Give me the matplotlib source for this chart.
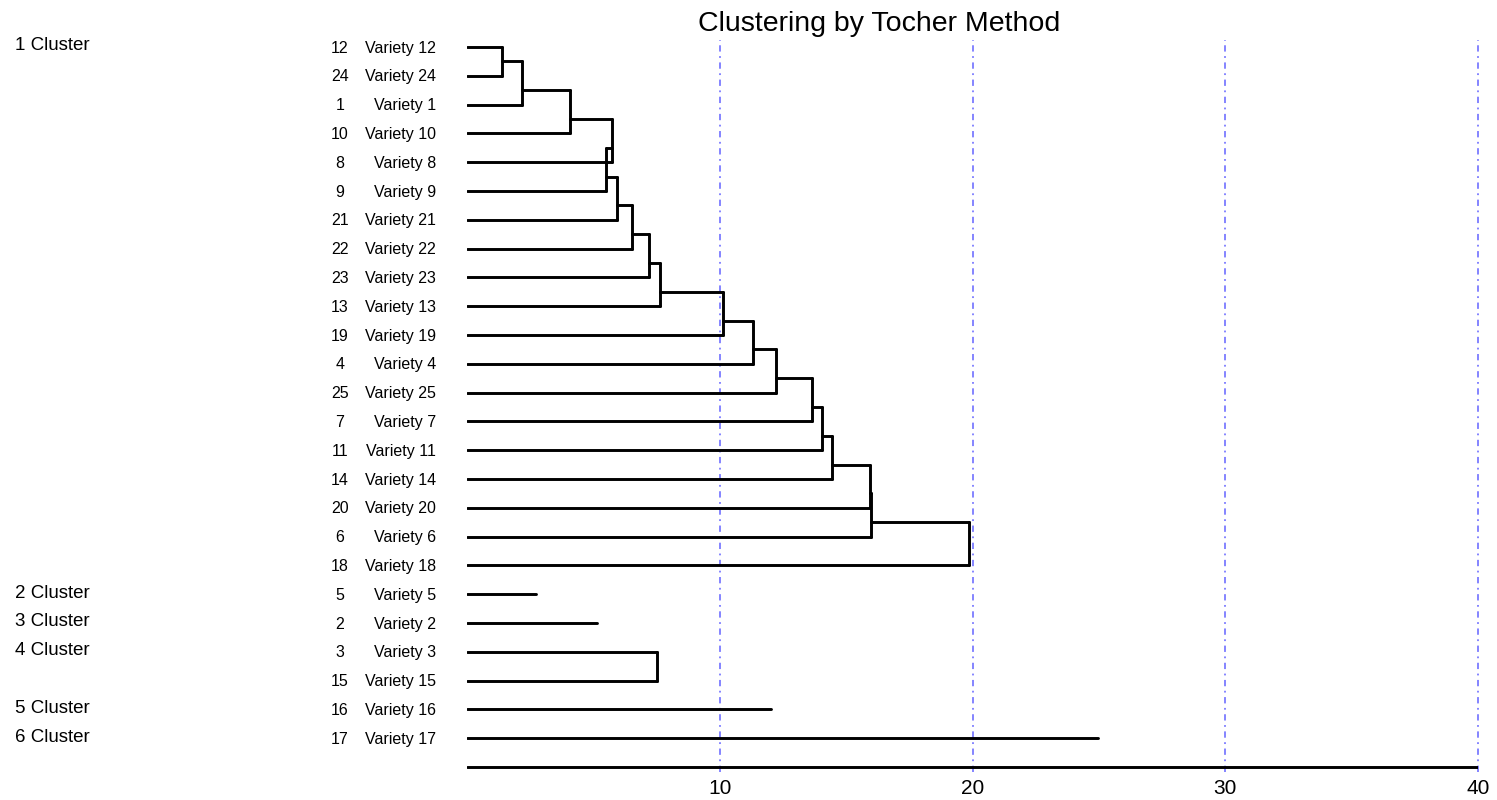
import matplotlib
matplotlib.use("Agg")
import matplotlib.pyplot as plt
from matplotlib.collections import LineCollection
from matplotlib.transforms import blended_transform_factory

plt.rcParams['font.family'] = ['Liberation Sans', 'DejaVu Sans']

# ordre des genotypes (de haut en bas) et groupes de Tocher
order = [12, 24, 1, 10, 8, 9, 21, 22, 23, 13, 19, 4, 25, 7, 11, 14, 20, 6, 18,
         5, 2, 3, 15, 16, 17]
cluster_names = ["1 Cluster", "2 Cluster", "3 Cluster", "4 Cluster", "5 Cluster", "6 Cluster"]
cluster_sizes = [19, 1, 1, 2, 1, 1]

# distances d'entree dans le groupe (a partir du 2e membre)
join_c1 = [1.37, 2.19, 4.07, 5.73, 5.48, 5.94, 6.52, 7.19, 7.63, 10.13, 11.32,
           12.24, 13.65, 14.04, 14.44, 15.93, 16.0, 19.87]
join_c4 = [7.51]
# groupes a un seul genotype : longueur du trait
single_dist = {5: 2.74, 2: 5.16, 16: 12.01, 17: 24.95}

joins = {0: join_c1, 3: join_c4}
xticks = [10, 20, 30, 40]

fig = plt.figure(figsize=(14.97, 8.0), dpi=100)
ax = fig.add_axes([467 / 1497, 1 - 772 / 800, (1478 - 467) / 1497, (772 - 40) / 800])
ax.set_xlim(0, 40)
ax.set_ylim(25 + 5 / 28.8, -7 / 28.8)
for s in ax.spines.values():
    s.set_visible(False)

segs = []
start = 0
for k, size in enumerate(cluster_sizes):
    if size == 1:
        segs.append([(0, start), (single_dist[order[start]], start)])
    else:
        d = joins[k]
        prev_x = 0
        node_y = start
        for j, dist in enumerate(d):
            row = start + j + 1
            if j == 0:
                segs.append([(0, start), (dist, start)])
            else:
                segs.append([(prev_x, node_y), (dist, node_y)])
            segs.append([(0, row), (dist, row)])
            segs.append([(dist, node_y), (dist, row)])
            node_y = (row - 1 + row) / 2
            prev_x = dist
    start += size

# grille bleue
for xv in xticks:
    ax.axvline(xv, color="#7b7bff", lw=1.3, linestyle=(0, (3.5, 2.5, 1, 2.5)),
               zorder=1, clip_on=False)

lc = LineCollection(segs, colors="black", linewidths=2.1, capstyle="round", zorder=3)
ax.add_collection(lc)
ax.plot([0, 40], [25, 25], color="black", lw=2.1, solid_capstyle="round", zorder=3)

ax.set_xticks(xticks)
ax.set_xticklabels([str(v) for v in xticks], fontsize=15)
ax.tick_params(axis="x", length=0, pad=5)
ax.set_yticks([])

# etiquettes a gauche
tr = blended_transform_factory(fig.transFigure, ax.transData)
for i, g in enumerate(order):
    ax.text(340 / 1497, i + 0.04, str(g), transform=tr, ha="center", va="center", fontsize=11.5)
    ax.text(436 / 1497, i + 0.04, "Variety %d" % g, transform=tr, ha="right", va="center", fontsize=11.5)

start = 0
for name, size in zip(cluster_names, cluster_sizes):
    ax.text(15 / 1497, start - 0.04, name, transform=tr, ha="left", va="center", fontsize=13.5)
    start += size

fig.text(879 / 1497, 1 - 24 / 800, "Clustering by Tocher Method", ha="center", va="center", fontsize=20.5)

fig.savefig("out.png", dpi=100)
